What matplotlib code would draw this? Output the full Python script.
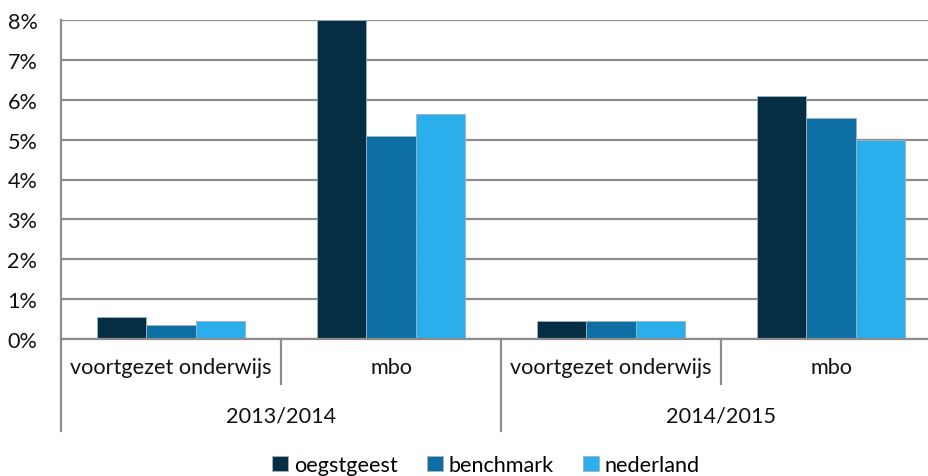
import numpy as np
import matplotlib.pyplot as plt

plt.rcParams['font.family'] = ['Lato', 'DejaVu Sans']

schooltypes = ['voortgezet onderwijs', 'mbo', 'voortgezet onderwijs', 'mbo']
years = ['2013/2014', '2014/2015']
series = ['oegstgeest', 'benchmark', 'nederland']
oegstgeest = [0.55, 8.0, 0.45, 6.1]
benchmark = [0.35, 5.1, 0.45, 5.55]
nederland = [0.45, 5.65, 0.45, 5.0]
colors = ['#052e44', '#0e6fa5', '#2baeec']

fig = plt.figure(figsize=(9.29, 4.77), dpi=100)
# right edge of the plot runs past the figure border
ax = fig.add_axes([61 / 929, 1 - 340 / 477, 880 / 929, 319 / 477])

x = np.arange(len(schooltypes))
w = 0.224
for i, (vals, name) in enumerate(zip([oegstgeest, benchmark, nederland], series)):
    ax.bar(x + (i - 1) * w, vals, w, color=colors[i], label=name,
           edgecolor='#9fb3bf', linewidth=0.6, zorder=3)

fs = 15.6
tc = '#111111'
ax.set_xlim(-0.5, 3.5)
ax.set_ylim(0, 8)
ax.set_yticks(range(0, 9))
ax.set_yticklabels([f'{v}%' for v in range(0, 9)], fontsize=fs, color=tc)
ax.tick_params(axis='y', length=0, pad=17)
ax.set_xticks([])
ax.yaxis.grid(True, color='#8c8c8c', linewidth=1.6, zorder=0)
for s in ['top', 'right', 'bottom', 'left']:
    ax.spines[s].set_visible(False)
ax.axhline(0, color='#8c8c8c', linewidth=1.6, zorder=4, clip_on=False)

# multi-level category axis
tr = ax.get_xaxis_transform()
lc = '#8c8c8c'
ax.plot([-0.5, -0.5], [1, -0.288], color=lc, lw=1.6, transform=tr, clip_on=False)
ax.plot([1.5, 1.5], [0, -0.288], color=lc, lw=1.6, transform=tr, clip_on=False)
for xs in [0.5, 2.5]:
    ax.plot([xs, xs], [0, -0.141], color=lc, lw=1.6, transform=tr, clip_on=False)
for xi, lab in zip(x, schooltypes):
    ax.text(xi, -0.088, lab, transform=tr, ha='center', va='center',
            fontsize=fs, color=tc)
for j, yr in enumerate(years):
    ax.text(2 * j + 0.5, -0.24, yr, transform=tr, ha='center', va='center',
            fontsize=fs, color=tc)

fig.legend(loc='center', bbox_to_anchor=(486 / 929, 1 - 466 / 477), ncol=3,
           frameon=False, fontsize=fs, handlelength=0.75, handleheight=0.75,
           handletextpad=0.25, columnspacing=1.35, borderaxespad=0)

fig.savefig('out.png', dpi=100)
